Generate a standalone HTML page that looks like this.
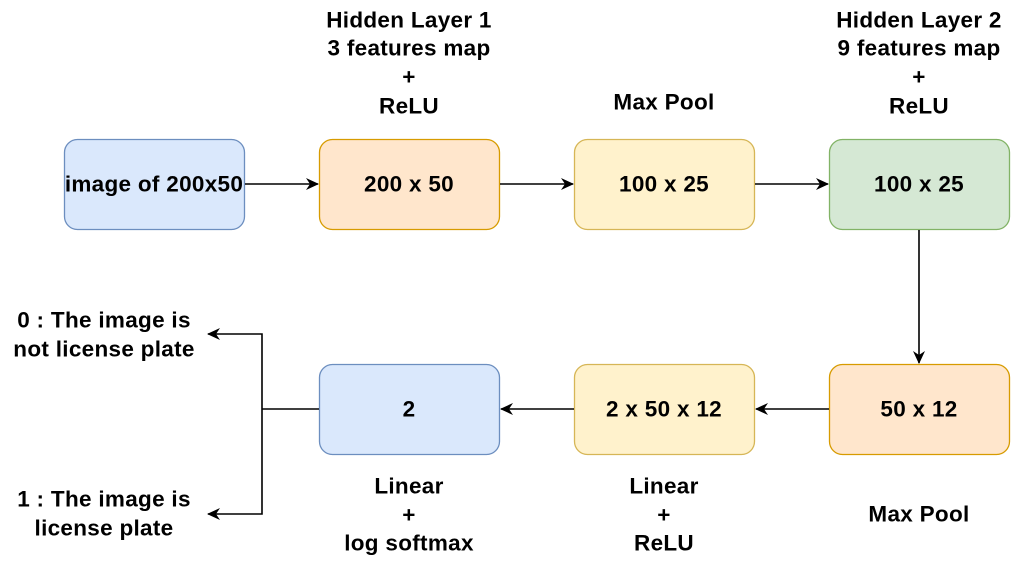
<!DOCTYPE html>
<html><head><style>
body{margin:0;background:#fff;}
svg text{font-family:"Liberation Sans",Arial,sans-serif;font-weight:bold;font-size:22.5px;letter-spacing:0.3px;fill:#000;text-anchor:middle;dominant-baseline:central;}
</style></head><body>
<svg width="1023" height="561" viewBox="0 0 1023 561">
<defs><marker id="a" markerWidth="14" markerHeight="12" refX="12" refY="6" orient="auto" markerUnits="userSpaceOnUse"><path d="M0,0 L13,6 L0,12 L4,6 Z" fill="#000"/></marker></defs>
<g stroke-width="1.3">
<rect x="64.5" y="139.5" width="180" height="90" rx="13" fill="#dae8fc" stroke="#6c8ebf"/>
<rect x="319.5" y="139.5" width="180" height="90" rx="13" fill="#ffe6cc" stroke="#d79b00"/>
<rect x="574.5" y="139.5" width="180" height="90" rx="13" fill="#fff2cc" stroke="#d6b656"/>
<rect x="829.5" y="139.5" width="180" height="90" rx="13" fill="#d5e8d4" stroke="#82b366"/>
<rect x="319.5" y="364.5" width="180" height="90" rx="13" fill="#dae8fc" stroke="#6c8ebf"/>
<rect x="574.5" y="364.5" width="180" height="90" rx="13" fill="#fff2cc" stroke="#d6b656"/>
<rect x="829.5" y="364.5" width="180" height="90" rx="13" fill="#ffe6cc" stroke="#d79b00"/>
</g>
<g stroke="#000" stroke-width="1.6" fill="none">
<line x1="245" y1="184" x2="318" y2="184" marker-end="url(#a)"/>
<line x1="500" y1="184" x2="573" y2="184" marker-end="url(#a)"/>
<line x1="755" y1="184" x2="828" y2="184" marker-end="url(#a)"/>
<line x1="919" y1="230" x2="919" y2="363" marker-end="url(#a)"/>
<line x1="829" y1="409" x2="756" y2="409" marker-end="url(#a)"/>
<line x1="574" y1="409" x2="501" y2="409" marker-end="url(#a)"/>
<line x1="319" y1="409" x2="262" y2="409"/>
<polyline points="262,409 262,334 208,334" marker-end="url(#a)"/>
<polyline points="262,409 262,514 208,514" marker-end="url(#a)"/>
</g>
<text x="154" y="184">image of 200x50</text>
<text x="409" y="184">200 x 50</text>
<text x="664" y="184">100 x 25</text>
<text x="919" y="184">100 x 25</text>
<text x="409" y="409">2</text>
<text x="664" y="409">2 x 50 x 12</text>
<text x="919" y="409">50 x 12</text>
<text x="409" y="20">Hidden Layer 1</text>
<text x="409" y="48">3 features map</text>
<text x="409" y="77">+</text>
<text x="409" y="106">ReLU</text>
<text x="664" y="102">Max Pool</text>
<text x="919" y="20">Hidden Layer 2</text>
<text x="919" y="48">9 features map</text>
<text x="919" y="77">+</text>
<text x="919" y="106">ReLU</text>
<text x="409" y="486">Linear</text>
<text x="409" y="515">+</text>
<text x="409" y="543">log softmax</text>
<text x="664" y="486">Linear</text>
<text x="664" y="515">+</text>
<text x="664" y="543">ReLU</text>
<text x="919" y="514">Max Pool</text>
<text x="104" y="320">0 : The image is</text>
<text x="104" y="349">not license plate</text>
<text x="104" y="499">1 : The image is</text>
<text x="104" y="528">license plate</text>
</svg>
</body></html>
